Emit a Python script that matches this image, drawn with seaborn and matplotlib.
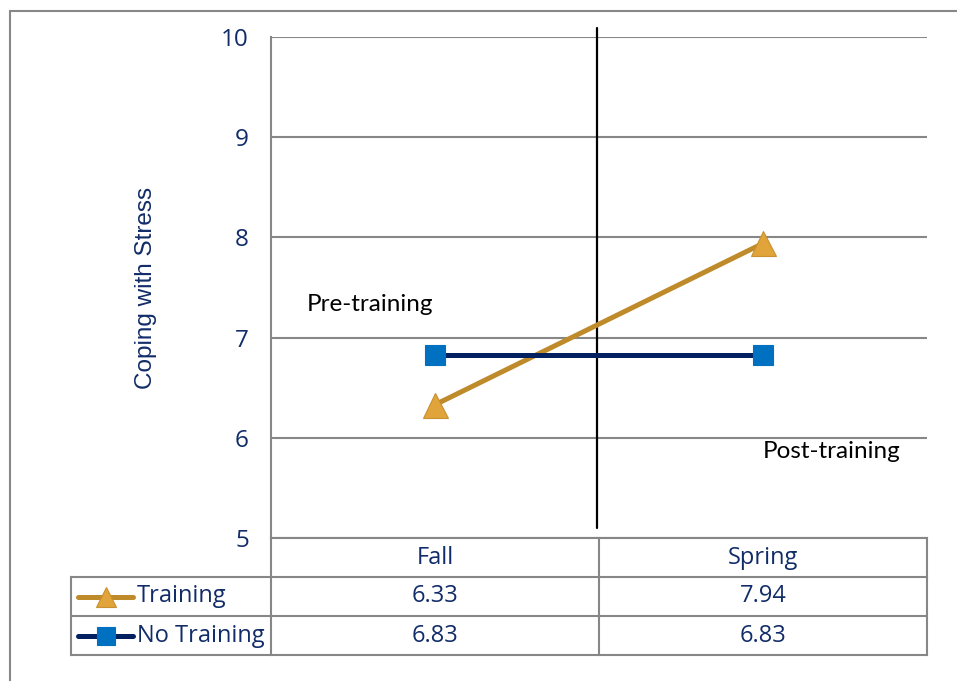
import numpy as np
import pandas as pd
import matplotlib.pyplot as plt
import seaborn as sns
from matplotlib.patches import Rectangle

# data
seasons = ["Fall", "Spring"]
training = [6.33, 7.94]
no_training = [6.83, 6.83]
series_names = ["Training", "No Training"]
y_ticks = [5, 6, 7, 8, 9, 10]

navy = "#112C68"
grey = "#878787"
gold_line, gold_fill = "#BF8A2A", "#E0A43A"
blue_line, blue_fill = "#002060", "#0070C0"

df = pd.DataFrame({
    "season": seasons * 2,
    "score": training + no_training,
    "group": [series_names[0]] * 2 + [series_names[1]] * 2,
})

sns.set_theme(style="white")
plt.rcParams["font.family"] = ["Open Sans", "DejaVu Sans"]

W, H = 957, 681
fig = plt.figure(figsize=(W / 100, H / 100), dpi=100)

def px_box(x0, y0, x1, y1):
    return [x0 / W, 1 - y1 / H, (x1 - x0) / W, (y1 - y0) / H]

# outer frame
fig.add_artist(Rectangle((10 / W, -0.1), 1.2, 1.1 - 11 / H,
                         transform=fig.transFigure, fill=False,
                         edgecolor=grey, lw=1.5))

ax = fig.add_axes(px_box(271, 37, 927, 538))
# marker, line colour, fill, edge, size, size in table key
styles = {series_names[0]: ("^", gold_line, gold_fill, "#C8902E", 18, 15),
          series_names[1]: ("s", blue_line, blue_fill, blue_fill, 14, 13)}
for name, sub in df.groupby("group", sort=False):
    mk, lc, fc, ec, ms, _ = styles[name]
    sns.lineplot(data=sub, x="season", y="score", ax=ax, color=lc, lw=3.6,
                 marker=mk, markersize=ms, markerfacecolor=fc,
                 markeredgecolor=ec, markeredgewidth=0.8, legend=False,
                 zorder=3)

ax.set_xlim(-0.5, 1.5)
ax.set_ylim(5, 10)
ax.set_yticks(y_ticks)
ax.set_yticklabels([str(t) for t in y_ticks], fontsize=17.5, color=navy)
ax.tick_params(axis="y", length=0, pad=16)
ax.set_xticks([])
ax.set_xlabel("")
ax.set_ylabel("Coping with Stress", fontsize=17.5, color=navy,
              family=["Liberation Sans", "DejaVu Sans"], labelpad=46)
ax.grid(axis="y", color=grey, lw=1.5)
for s in ["top", "right", "bottom"]:
    ax.spines[s].set_visible(False)
ax.spines["left"].set_color(grey)
ax.spines["left"].set_linewidth(1.5)

# divider between pre and post
ax.axvline(0.494, ymin=0.02, ymax=1.018, color="black", lw=1.6,
           clip_on=False, zorder=2)
ax.text(-0.39, 7.33, "Pre-training", fontsize=17.5, color="black",
        family=["Lato", "DejaVu Sans"], va="center")
ax.text(1.0, 5.86, "Post-training", fontsize=17.5, color="black",
        family=["Lato", "DejaVu Sans"], va="center")

# data table below
tab = fig.add_axes(px_box(71, 538, 927, 655))
left = -0.5 - 200 / 328
tab.set_xlim(left, 1.5)
tab.set_ylim(3, 0)
tab.axis("off")
lk = dict(color=grey, lw=1.5, solid_capstyle="projecting", clip_on=False)
tab.plot([-0.5, 1.5], [0, 0], **lk)
for yy in [1, 2, 3]:
    tab.plot([left, 1.5], [yy, yy], **lk)
for xx in [-0.5, 0.5, 1.5]:
    tab.plot([xx, xx], [0, 3], **lk)
tab.plot([left, left], [1, 3], **lk)

for i, s in enumerate(seasons):
    tab.text(i, 0.5, s, ha="center", va="center", fontsize=17, color=navy)
for r, (name, vals) in enumerate(zip(series_names, [training, no_training])):
    mk, lc, fc, ec, _, ks = styles[name]
    yy = r + 1.5
    tab.plot([left + 7 / 328, left + 62 / 328], [yy, yy], color=lc, lw=3.6,
             solid_capstyle="round", clip_on=False)
    tab.plot([left + 35 / 328], [yy], marker=mk, markersize=ks,
             markerfacecolor=fc, markeredgecolor=ec, markeredgewidth=0.8,
             clip_on=False)
    tab.text(left + 66 / 328, yy, name, ha="left", va="center",
             fontsize=17, color=navy)
    for i, v in enumerate(vals):
        tab.text(i, yy, f"{v:.2f}", ha="center", va="center",
                 fontsize=17, color=navy)

fig.savefig("out.png", dpi=100)
